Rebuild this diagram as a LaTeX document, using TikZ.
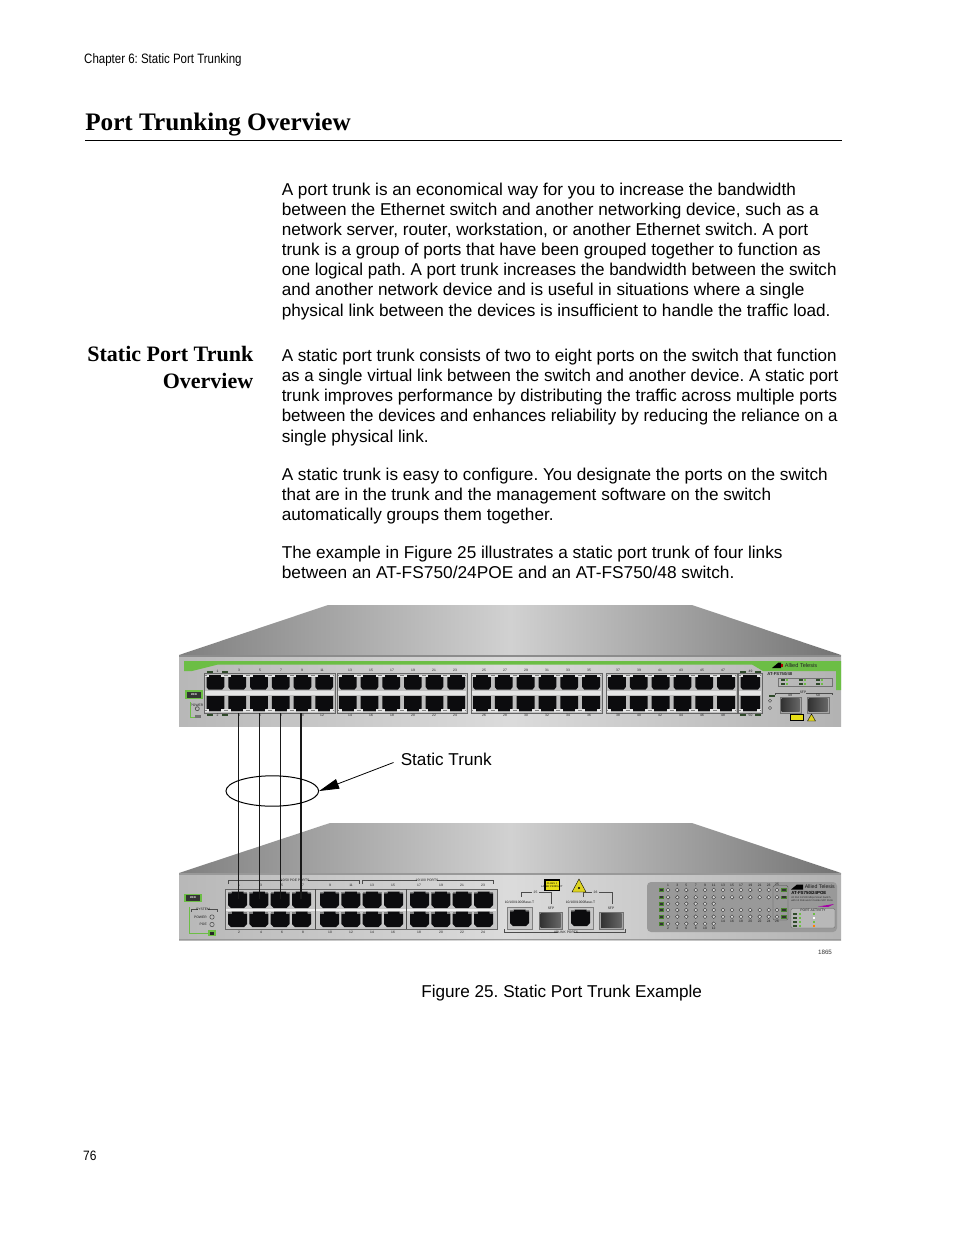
\documentclass[tikz,border=0pt]{standalone}
\usepackage{fontspec}
\setmainfont{Liberation Sans}
\newfontfamily\serifbf{Liberation Serif}
\usetikzlibrary{arrows.meta,calc,shapes.geometric}
\definecolor{portblack}{HTML}{0C0C0E}
\definecolor{panelgray}{HTML}{BDBDBD}
\definecolor{ledgreen}{HTML}{6CBE45}
\definecolor{tagdark}{HTML}{2F4A2A}
\tikzset{
  x=0.75pt,y=-0.75pt,
  bodyline/.style={anchor=base west,inner sep=0pt,font=\fontsize{12.87}{15}\selectfont},
  fitline/.style={bodyline,xscale=#1,transform shape},
  headline/.style={anchor=base east,inner sep=0pt,font=\fontsize{16.5}{20}\selectfont\serifbf\bfseries},
  tiny/.style={inner sep=0pt,font=\fontsize{2.5}{3}\selectfont,text=black!90},
  trunkwire/.style={draw=black!90,line width=0.85pt},
  led/.style={draw=black!80,fill=black!15,line width=0.3pt},
}
% top switch port block: x0 y0 x1 y1 columns
\newcommand{\topblock}[5]{%
  \pgfmathsetmacro{\cw}{(#3-#1)/#5}
  \fill[black!25,draw=black!60,line width=0.5pt] (#1,#2) rectangle (#3,#4);
  \fill[black!10] (#1+0.8,{(#2+#4)/2-2}) rectangle (#3-0.8,{(#2+#4)/2+2});
  \foreach \c in {1,...,#5}{
    \pgfmathsetmacro{\xa}{#1+(\c-1)*\cw+2}
    \pgfmathsetmacro{\xb}{#1+\c*\cw-2}
    \fill[portblack] (\xa,#2+2) -- (\xb,#2+2) -- (\xb,#2+14) -- (\xb-2,#2+16.5) -- (\xa+2,#2+16.5) -- (\xa,#2+14) -- cycle;
    \fill[portblack] (\xa,#2+23) -- (\xb,#2+23) -- (\xb,#4-4.5) -- (\xb-2,#4-2) -- (\xa+2,#4-2) -- (\xa,#4-4.5) -- cycle;
  }
  \foreach \c in {0,...,#5}{
    \pgfmathsetmacro{\xx}{#1+\c*\cw}
    \fill[black!10] ({max(\xx-4.8,#1+0.8)},#2+1.5) rectangle ({min(\xx+4.8,#3-0.8)},#2+4.2);
    \fill[black!10] ({max(\xx-4.8,#1+0.8)},#4-4.2) rectangle ({min(\xx+4.8,#3-0.8)},#4-1.5);
    \fill[black!50] ({max(\xx-2,#1+0.8)},#2+2.4) rectangle ({min(\xx+2,#3-0.8)},#2+3.4);
    \fill[black!50] ({max(\xx-2,#1+0.8)},#4-3.4) rectangle ({min(\xx+2,#3-0.8)},#4-2.4);
  }
}
% jack: x0 y0 x1 y1
\newcommand{\jack}[4]{%
  \fill[portblack] (#1+3.5,#2) -- (#3-3.5,#2) -- (#3-3.5,#2+1.8) -- (#3,#2+1.8) -- (#3,#4-3) -- (#3-3,#4) -- (#1+3,#4) -- (#1,#4-3) -- (#1,#2+1.8) -- (#1+3.5,#2+1.8) -- cycle;
  \fill[black!50] (#1,#2) rectangle (#1+3.5,#2+1.8);
  \fill[black!50] (#3-3.5,#2) rectangle (#3,#2+1.8);
}
\newcommand{\sfp}[4]{%
  \fill[black!35,draw=black!55,line width=0.3pt] (#1,#2) rectangle (#3,#4);
  \shade[left color=black!80,right color=black!60] (#1+1.5,#2+1.5) rectangle (#3-1.5,#4-1.5);
}
\begin{document}
\frenchspacing
\begin{tikzpicture}
\useasboundingbox (0,0) rectangle (954,1235);
\fill[white] (0,0) rectangle (954,1235);

% page text
\node[inner sep=0pt,anchor=base west,font=\fontsize{10.2}{12}\selectfont,xscale=0.845,transform shape] (chapter) at (84,63) {Chapter 6: Static Port Trunking};
\node[inner sep=0pt,anchor=base west,font=\fontsize{18.9}{22}\selectfont\serifbf\bfseries] (title) at (85,130) {Port Trunking Overview};
\coordinate (ruleL) at (85,140.5);
\coordinate (ruleR) at (842,140.5);
\draw[line width=0.75pt] (ruleL) -- (ruleR);

\node[bodyline] (p1) at (281.5,195) {A port trunk is an economical way for you to increase the bandwidth};
\node[bodyline] (p2) at (281.5,215) {between the Ethernet switch and another networking device, such as a};
\node[bodyline] (p3) at (281.5,235) {network server, router, workstation, or another Ethernet switch. A port};
\node[fitline=0.9963] (p4) at (281.5,255) {trunk is a group of ports that have been grouped together to function as};
\node[fitline=0.9925] (p5) at (281.5,275.3) {one logical path. A port trunk increases the bandwidth between the switch};
\node[bodyline] (p6) at (281.5,295.6) {and another network device and is useful in situations where a single};
\node[bodyline] (p7) at (281.5,316) {physical link between the devices is insufficient to handle the traffic load.};

\node[headline] (h1) at (253.5,361) {Static Port Trunk};
\node[headline] (h2) at (253.5,388) {Overview};

\node[fitline=0.9945] (q1) at (281.5,361) {A static port trunk consists of two to eight ports on the switch that function};
\node[fitline=0.9858] (q2) at (281.5,381.3) {as a single virtual link between the switch and another device. A static port};
\node[fitline=0.9893] (q3) at (281.5,401.5) {trunk improves performance by distributing the traffic across multiple ports};
\node[fitline=0.9827] (q4) at (281.5,421.7) {between the devices and enhances reliability by reducing the reliance on a};
\node[bodyline] (q5) at (281.5,442) {single physical link.};

\node[bodyline] (r1) at (281.5,480) {A static trunk is easy to configure. You designate the ports on the switch};
\node[bodyline] (r2) at (281.5,500) {that are in the trunk and the management software on the switch};
\node[bodyline] (r3) at (281.5,520) {automatically groups them together.};

\node[bodyline] (s1) at (281.5,558) {The example in Figure 25 illustrates a static port trunk of four links};
\node[fitline=1.0089] (s2) at (281.5,578) {between an AT-FS750/24POE and an AT-FS750/48 switch.};

% ---- top switch ----
\shade[left color=black!50,right color=black!55,middle color=black!18] (179,655) -- (328,605) -- (692,605) -- (841,655) -- cycle;
\shade[left color=black!28,right color=black!30,middle color=black!14] (179,655) rectangle (841,726);
\fill[black!45] (179,655) rectangle (841,656.5);
\fill[ledgreen] (184,661) -- (841,661) -- (841,690) -- (836,690) -- (836,671) -- (763,671) -- (752,664.5) -- (218,664.5) -- (192,671) -- (184,671) -- cycle;
\topblock{204.5}{673}{335}{713}{6}
\topblock{337}{673}{467}{713}{6}
\topblock{471}{673}{602}{713}{6}
\topblock{606}{673}{737}{713}{6}
\topblock{738.5}{673}{762}{713}{1}
% top switch small items
\fill[ledgreen] (185,690) rectangle (203,699);
\fill[black!80] (187,691.5) rectangle (201,697.5);
\node[inner sep=0pt,font=\fontsize{2.6}{3}\selectfont\bfseries,text=white] (ecotop) at (194,694.5) {eco};
\draw[black!70,line width=0.5pt] (197.3,708.7) circle (2);
\node[tiny] (powertop) at (197,705) {POWER};
\draw[ledgreen,line width=0.4pt] (190,702) -- (190,717) -- (195,717);
\fill[black!55] (195,714.7) rectangle (200.7,718);
\foreach \xx in {210,225,743,758}{
  \fill[tagdark] (\xx-3,670.5) rectangle (\xx+3,673);
  \fill[tagdark] (\xx-3,713.5) rectangle (\xx+3,716);
}
\node[tiny] (tl1) at (217.5,671) {1};
\node[tiny] (bl2) at (217.5,715) {2};
\node[tiny] (tl49) at (750.5,671.5) {49};
\node[tiny] (bl50) at (750.5,715) {50};
\foreach \xx/\lab in {239/3,260/5,281/7,302/9,322/11,350/13,371/15,392/17,413/19,434/21,455/23,484/25,505/27,526/29,547/31,568/33,589/35,618/37,639/39,660/41,681/43,702/45,723/47}{
  \node[tiny] (tl\lab) at (\xx,670.5) {\lab};
}
\foreach \xx/\lab in {239/4,260/6,281/8,302/10,322/12,350/14,371/16,392/18,413/20,434/22,455/24,484/26,505/28,526/30,547/32,568/34,589/36,618/38,639/40,660/42,681/44,702/46,723/48}{
  \node[tiny] (bl\lab) at (\xx,715.5) {\lab};
}
\sfp{780}{697}{801}{713}
\sfp{807}{697}{829}{713}
\fill[black] (790,713.5) rectangle (804,721);
\fill[yellow!90!black] (791,714.5) rectangle (803,720);
\fill[yellow!85!black,draw=black,line width=0.3pt] (807.5,721) -- (811.5,714) -- (815.5,721) -- cycle;
\draw[black!75,line width=0.3pt] (770,700.7) circle (1.6) (770,708) circle (1.6);
\fill[tagdark] (769,694.5) rectangle (775,697);
\draw[black!70,line width=0.3pt] (775,695) -- (775,692.7) -- (800,692.7) (806,692.7) -- (832,692.7) -- (832,695);
\node[tiny] (sfptop) at (803,692.7) {SFP};
\node[tiny] (s49) at (790,695) {49};
\node[tiny] (s50) at (818,695) {50};
\fill[black] (772,668) -- (778.5,662.5) -- (781,662.5) -- (781,668) -- cycle;
\fill[red!70!black] (781,664) rectangle (783,667);
\node[inner sep=0pt,anchor=west,font=\fontsize{4.2}{5}\selectfont,text=black!85] (alliedtop) at (784.5,665.5) {Allied Telesis};
\node[inner sep=0pt,anchor=west,font=\fontsize{3.2}{4}\selectfont\bfseries,text=black!85] (modeltop) at (767,673.5) {AT-FS750/48};
\draw[black!55,line width=0.3pt] (778,678) rectangle (832,686);
\foreach \xx in {781,799,816}{\fill[tagdark] (\xx,679.3) rectangle (\xx+4,681.3);\fill[tagdark] (\xx,682.8) rectangle (\xx+4,684.8);\fill[ledgreen] (\xx+5,679.3) rectangle (\xx+6.5,681.3);\fill[ledgreen] (\xx+5,682.8) rectangle (\xx+6.5,684.8);}

% trunk wires
\foreach \i/\xx in {1/238.8,2/259.8,3/280.4,4/301}{
  \coordinate (a\i) at (\xx,713);
  \coordinate (b\i) at (\xx,899);
}

% ---- bottom switch ----
\shade[left color=black!50,right color=black!55,middle color=black!18] (179,873) -- (330,823) -- (692,823) -- (841,873) -- cycle;
\shade[left color=black!28,right color=black!30,middle color=black!14] (179,873) rectangle (841,940);
\fill[black!40] (179,873) rectangle (841,874.5);
\fill[black!40] (179,938.7) rectangle (841,940);
% ports
\fill[black!22,draw=black!60,line width=0.5pt] (225,889) rectangle (497,929);
\fill[black!6] (226,908.6) rectangle (496,911.2);
\foreach \x in {228,249.3,270.6,292,320,341.3,362.6,384,410,431.3,452.6,474}{
  \jack{\x}{891.5}{\x+19}{908}
  \jack{\x}{911.7}{\x+19}{927}
}
\fill[black!70] (315,889) rectangle (316.2,929);
\fill[black!70] (405.8,889) rectangle (407,929);
% labels
\foreach \xx/\lab in {239/1,261/3,282/5,303/7,330/9,351/11,372/13,393/15,419/17,441/19,462/21,483/23}{
  \node[tiny] (bt\lab) at (\xx,885) {\lab};
}
\foreach \xx/\lab in {239/2,261/4,282/6,303/8,330/10,351/12,372/14,393/16,419/18,441/20,462/22,483/24}{
  \node[tiny] (bb\lab) at (\xx,932) {\lab};
}
\draw[black!70,line width=0.3pt] (228.5,884) -- (228.5,880.5) -- (282,880.5) (308,880.5) -- (359.5,880.5) -- (359.5,884);
\draw[black!70,line width=0.3pt] (362.5,884) -- (362.5,880.5) -- (417,880.5) (437,880.5) -- (493,880.5) -- (493,884);
\node[tiny] (poelabel) at (295,880.5) {10/50 POE PORTS};
\node[tiny] (plainlabel) at (427,880.5) {10/100 PORTS};
% eco + system
\fill[ledgreen] (184,893.5) rectangle (202,902);
\fill[black!80] (186,895) rectangle (200,900.5);
\node[inner sep=0pt,font=\fontsize{2.6}{3}\selectfont\bfseries,text=white] (ecobot) at (193,897.7) {eco};
\draw[black!70,line width=0.3pt] (191,912) -- (191,909) -- (198,909) (208,909) -- (217,909) -- (217,912);
\node[tiny] (systemlabel) at (203,909) {SYSTEM};
\node[tiny,anchor=east] (powerbot) at (207,917) {POWER};
\node[tiny,anchor=east] (poebot) at (207,924.5) {POE};
\draw[black!70,line width=0.4pt,fill=panelgray] (212,917) circle (2.2) (212,924.5) circle (2.2);
\draw[ledgreen,line width=0.4pt] (189,907) -- (189,933) -- (208,933);
\fill[ledgreen] (208,930) rectangle (216,936);
\fill[black!85] (210,931.5) rectangle (214,934.5);
% uplinks
\draw[black!70,line width=0.3pt] (504,929) -- (504,932) -- (558,932) (574,932) -- (625,932) -- (625,929);
\node[tiny] (uplink) at (566,932.5) {UPLINK PORTS};
\draw[black!70,line width=0.3pt] (521,897) -- (521,892) -- (532,892) (539,892) -- (551.5,892) -- (551.5,904);
\draw[black!70,line width=0.3pt] (583,897) -- (583,892) -- (592,892) (599,892) -- (611.7,892) -- (611.7,904);
\node[tiny] (n25) at (535.5,892) {25};
\node[tiny] (n26) at (595.5,892) {26};
\node[tiny] (tx1) at (519.5,902.5) {10/100/1000Base-T};
\node[tiny] (tx2) at (580.5,902.5) {10/100/1000Base-T};
\node[tiny] (sfp1) at (551,908) {SFP};
\node[tiny] (sfp2) at (611,908) {SFP};
\fill[black!22,draw=black!50,line width=0.3pt] (507,907) rectangle (532,929);
\fill[black!22,draw=black!50,line width=0.3pt] (568,907) rectangle (593,929);
\jack{510}{909.5}{529}{926}
\jack{571}{909.5}{590}{926}
\sfp{539}{912}{562}{929}
\sfp{599.5}{912}{623}{929}
\fill[black] (544,879) rectangle (560,891);
\fill[yellow!90!black] (545.5,880.5) rectangle (558.5,889.5);
\node[inner sep=0pt,font=\fontsize{1.9}{2.2}\selectfont,align=center,text=black] (laser) at (552,885) {CLASS 1\\LASER PRODUCT};
\fill[yellow!85!black,draw=black,line width=0.3pt] (572,892) -- (579,879) -- (586,892) -- cycle;
\fill[black] (579,888) circle (1.2);
% LED panel
\fill[black!40,rounded corners=3pt] (647,882) rectangle (837,932);
\foreach \xx/\lab [count=\n] in {668/1,677.3/3,686.3/5,695.7/7,705/9,713.7/11,723/13,732/15,741/17,750.3/19,759.7/21,768.7/23}{
  \node[tiny] (lt\lab) at (\xx,885.5) {\lab};
  \draw[led] (\xx,890) circle (1.9);
  \draw[led] (\xx,897.3) circle (1.9);
  \draw[led] (\xx,910) circle (1.9);
  \draw[led] (\xx,916.7) circle (1.9);
  \ifnum\n<7
    \draw[led] (\xx,903.7) circle (1.9);
    \draw[led] (\xx,923.7) circle (1.9);
  \fi
}
\foreach \xx/\lab in {668/2,677.3/4,686.3/6,695.7/8,705/10,713.7/12}{
  \node[tiny] (lb\lab) at (\xx,928.5) {\lab};
}
\foreach \xx/\lab in {723/14,732/16,741/18,750.3/20,759.7/22,768.7/24}{
  \node[tiny] (lc\lab) at (\xx,921.5) {\lab};
}
\foreach \yy in {890,897.3,903.7,910,916.7,923.7}{
  \fill[ledgreen!70!black] (658.5,\yy-1.8) rectangle (664,\yy+1.8);
  \fill[black!80] (659.5,\yy-0.9) rectangle (663,\yy+0.9);
}
\foreach \yy in {890,897.3,910,916.7}{
  \draw[led] (777,\yy) circle (1.9);
  \fill[ledgreen!70!black] (781,\yy-1.8) rectangle (786.5,\yy+1.8);
  \fill[black!80] (782,\yy-0.9) rectangle (785.5,\yy+0.9);
}
\draw[black!70,line width=0.3pt,rounded corners=1pt] (773,885.5) rectangle (788,920);
\node[tiny] (lt25) at (777,884.5) {25};
\node[tiny] (lc26) at (777,921.5) {26};
\fill[black] (791,889.5) -- (797,884.5) -- (803,884.5) -- (803,889.5) -- cycle;
\node[inner sep=0pt,anchor=west,font=\fontsize{3.9}{5}\selectfont,text=black!90] (alliedbot) at (804.5,887) {Allied Telesis};
\node[inner sep=0pt,anchor=west,font=\fontsize{3.3}{4}\selectfont\bfseries,text=black] (modelbot) at (791,893) {AT-FS750/24POE};
\node[inner sep=0pt,anchor=west,align=left,font=\fontsize{1.9}{2.2}\selectfont,text=black!85] (descbot) at (791,899) {24 Port 10/100 Mbps Smart Switch\\with 12 PoE and 2 Combo SFP Ports};
\fill[violet!70!magenta] (818,906.5) -- (834,904) -- (828,907) -- cycle;
\fill[black!28,rounded corners=1pt,draw=black!60,line width=0.3pt] (791,908.5) rectangle (835,928);
\node[tiny] (pactivity) at (813,910.5) {PORT ACTIVITY};
\foreach \yy in {914,918,922,925.5}{
  \fill[tagdark] (793,\yy-1) rectangle (797,\yy+1);
  \fill[ledgreen] (799,\yy-1) rectangle (801,\yy+1);
}
\foreach \yy/\cc in {914/ledgreen,918/white,922/ledgreen,925.5/orange}{
  \fill[\cc] (813,\yy-1) rectangle (815,\yy+1);
}

\node[inner sep=0pt,font=\fontsize{4.7}{5}\selectfont,text=black!80] (fig1865) at (825,952.5) {1865};

% trunk wires and ring
\foreach \i in {1,2,3,4}{ \draw[trunkwire] (a\i) -- (b\i); }
\node[draw=black,line width=0.75pt,ellipse,minimum width=69.5pt,minimum height=22.8pt,inner sep=0pt] (ring) at (272.3,791) {};
\node[bodyline] (trunklabel) at (400.5,765) {Static Trunk};
\coordinate (arrowstart) at (393.5,762.5);
\draw[line width=0.6pt,-{Triangle[length=15pt,width=7.5pt]}] (arrowstart) -- (ring.east);

\node[bodyline] (caption) at (421,997) {Figure 25. Static Port Trunk Example};
\node[inner sep=0pt,anchor=base west,font=\fontsize{10.2}{12}\selectfont,xscale=0.88,transform shape] (pagenum) at (83,1160) {76};
\end{tikzpicture}
\end{document}
